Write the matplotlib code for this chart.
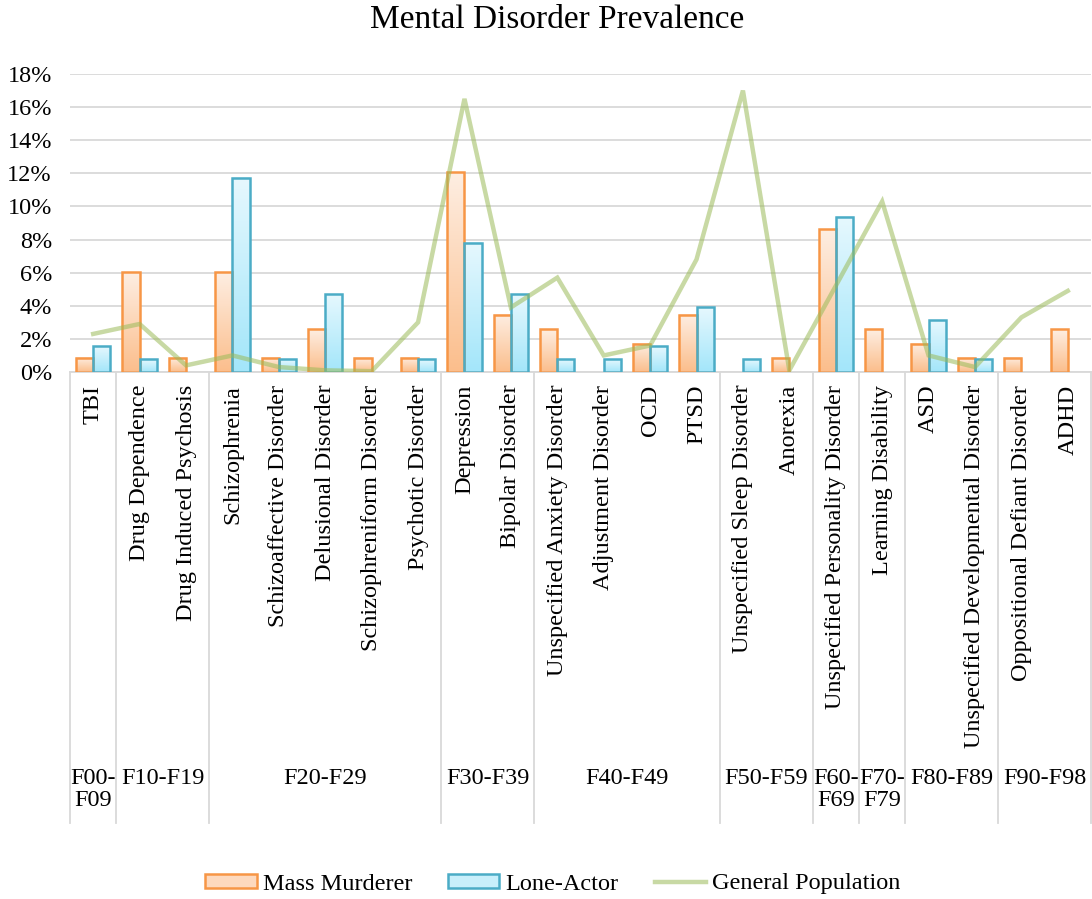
import numpy as np
import matplotlib
matplotlib.use("Agg")
import matplotlib.pyplot as plt
from matplotlib.colors import LinearSegmentedColormap
from matplotlib.patches import Patch
from matplotlib.lines import Line2D
from matplotlib.ticker import PercentFormatter
import matplotlib.transforms as mtransforms

plt.rcParams["font.family"] = ["Liberation Serif", "DejaVu Serif"]

disorders = [
    "TBI", "Drug Dependence", "Drug Induced Psychosis", "Schizophrenia",
    "Schizoaffective Disorder", "Delusional Disorder", "Schizophreniform Disorder",
    "Psychotic Disorder", "Depression", "Bipolar Disorder",
    "Unspecified Anxiety Disorder", "Adjustment Disorder", "OCD", "PTSD",
    "Unspecified Sleep Disorder", "Anorexia", "Unspecified Personality Disorder",
    "Learning Disability", "ASD", "Unspecified Developmental Disorder",
    "Oppositional Defiant Disorder", "ADHD",
]
groups = ["F00-\nF09", "F10-F19", "F20-F29", "F30-F39", "F40-F49",
          "F50-F59", "F60-\nF69", "F70-\nF79", "F80-F89", "F90-F98"]
group_sizes = [1, 2, 5, 2, 4, 2, 1, 1, 2, 2]

# percentages
mass_murderer = [0.86, 6.03, 0.86, 6.03, 0.86, 2.59, 0.86, 0.86, 12.07, 3.45,
                 2.59, 0.0, 1.72, 3.45, 0.0, 0.86, 8.62, 2.59, 1.72, 0.86, 0.86, 2.59]
lone_actor = [1.56, 0.78, 0.0, 11.72, 0.78, 4.69, 0.0, 0.78, 7.81, 4.69,
              0.78, 0.78, 1.56, 3.91, 0.78, 0.0, 9.38, 0.0, 3.13, 0.78, 0.0, 0.0]
general_population = [2.3, 2.9, 0.4, 1.0, 0.3, 0.1, 0.05, 3.0, 16.5, 3.9,
                      5.7, 1.0, 1.6, 6.8, 17.0, 0.1, 5.2, 10.3, 1.0, 0.3, 3.3, 4.9]

GRID = "#D9D9D9"
FS = 17.5


def gradient_bars(ax, xs, values, width, top, bottom, edge):
    cmap = LinearSegmentedColormap.from_list("g", [bottom, top])
    grad = np.linspace(0, 1, 128).reshape(-1, 1)
    for x, v in zip(xs, values):
        if v <= 0:
            continue
        ax.imshow(grad, extent=[x - width / 2, x + width / 2, 0, v], origin="lower",
                  cmap=cmap, aspect="auto", zorder=2, interpolation="bilinear")
        ax.bar(x, v, width, facecolor="none", edgecolor=edge, linewidth=1.8, zorder=3)


fig = plt.figure(figsize=(10.92, 8.99), dpi=100)
ax = fig.add_axes([70 / 1092, 1 - 372 / 899, 1021 / 1092, 298 / 899])

x = np.arange(len(disorders))
w = 0.37
gradient_bars(ax, x - w / 2, [v / 100 for v in mass_murderer], w,
              "#FEEEE2", "#FBBE8C", "#F79646")
gradient_bars(ax, x + w / 2, [v / 100 for v in lone_actor], w,
              "#E6F8FE", "#A3E6FA", "#4BACC6")
ax.plot(x, [v / 100 for v in general_population], color="#9BBB59", alpha=0.55,
        lw=3.2, zorder=4, solid_joinstyle="miter")

ax.set_xlim(-0.5, len(disorders) - 0.5)
ax.set_ylim(0, 0.18)
ax.set_yticks(np.arange(0, 0.181, 0.02))
ax.yaxis.set_major_formatter(PercentFormatter(1.0, decimals=0))
ax.tick_params(axis="y", length=0, pad=13, labelsize=FS)
ax.set_xticks([])
ax.grid(axis="y", color=GRID, lw=1.3, zorder=0)
ax.set_axisbelow(True)
for side in ["left", "right", "top"]:
    ax.spines[side].set_visible(False)
ax.spines["bottom"].set_color(GRID)
ax.spines["bottom"].set_linewidth(1.3)

# multi-level category axis
trans = mtransforms.blended_transform_factory(ax.transData, ax.transAxes)
for i, name in enumerate(disorders):
    ax.text(i, -0.043, name, rotation=90, ha="center", va="top",
            fontsize=FS, transform=trans)

edges = np.concatenate([[0], np.cumsum(group_sizes)]) - 0.5
for e in edges:
    ax.plot([e, e], [0, -1.515], color=GRID, lw=1.3, transform=trans, clip_on=False)
for g, lo, hi in zip(groups, edges[:-1], edges[1:]):
    ax.text((lo + hi) / 2, -1.33, g, ha="center", va="top", fontsize=FS,
            linespacing=1.05, transform=trans)

fig.text(557 / 1092, 1 - 20 / 899, "Mental Disorder Prevalence",
         ha="center", va="center", fontsize=24)

handles = [
    Patch(facecolor="#FDD9BE", edgecolor="#F79646", linewidth=1.8),
    Patch(facecolor="#C8EFFB", edgecolor="#4BACC6", linewidth=1.8),
    Line2D([], [], color="#9BBB59", alpha=0.55, lw=3.2),
]
fig.legend(handles, ["Mass Murderer", "Lone-Actor", "General Population"],
           loc="center", bbox_to_anchor=(553 / 1092, 1 - 884 / 899), ncol=3,
           frameon=False, fontsize=FS, handlelength=2.1, handleheight=0.55,
           handletextpad=0.25, columnspacing=1.5)

fig.savefig("out.png", dpi=100)
